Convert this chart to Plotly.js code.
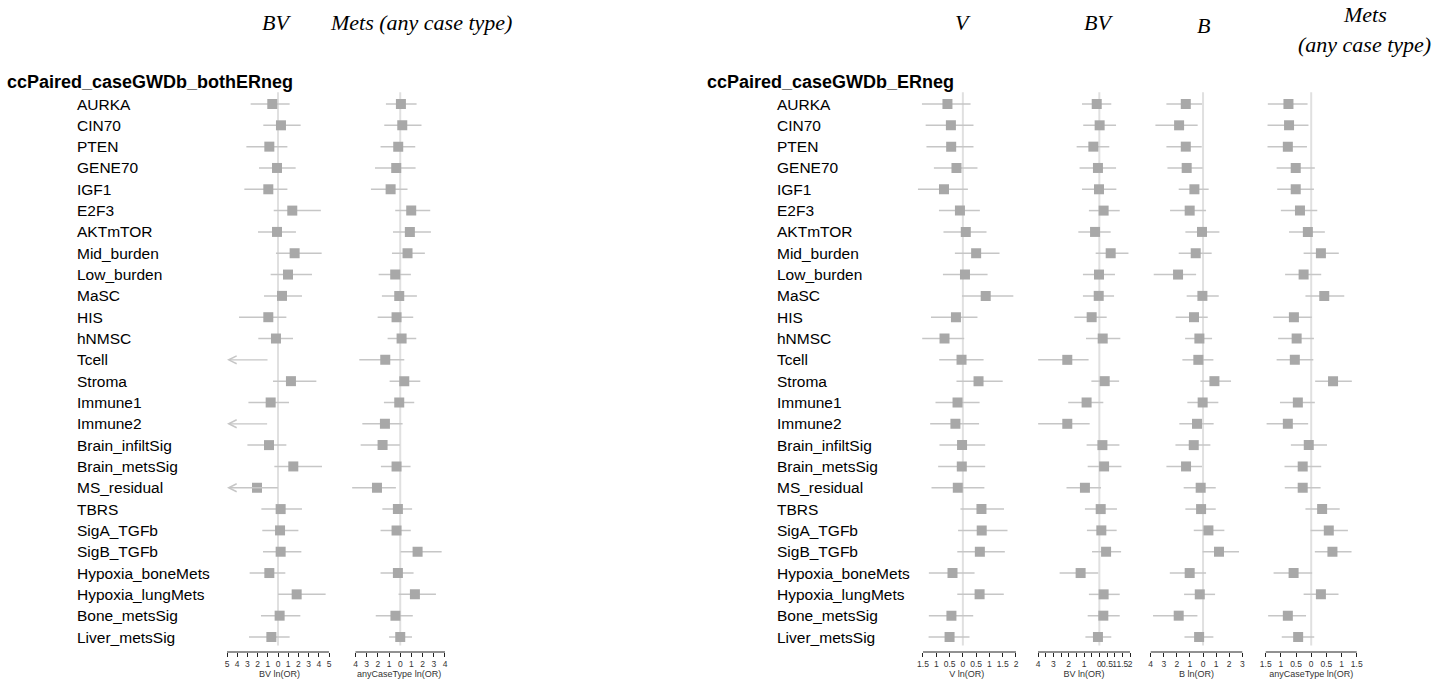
<!DOCTYPE html>
<html>
<head>
<meta charset="utf-8">
<script src="https://cdn.plot.ly/plotly-3.0.1.min.js"></script>
<style>html,body{margin:0;padding:0;background:#fff;}#chart{width:1433px;height:684px;}</style>
</head>
<body>
<div id="chart"></div>
<script>
// ---------------- DATA ----------------
const rowLabels = ["AURKA","CIN70","PTEN","GENE70","IGF1","E2F3","AKTmTOR","Mid_burden","Low_burden","MaSC","HIS","hNMSC","Tcell","Stroma","Immune1","Immune2","Brain_infiltSig","Brain_metsSig","MS_residual","TBRS","SigA_TGFb","SigB_TGFb","Hypoxia_boneMets","Hypoxia_lungMets","Bone_metsSig","Liver_metsSig"];

const leftTitle = "ccPaired_caseGWDb_bothERneg";
const rightTitle = "ccPaired_caseGWDb_ERneg";

// Left panel: BV
const lBV_est = [-0.56,0.29,-0.85,-0.10,-0.95,1.40,-0.10,1.63,0.98,0.39,-0.95,-0.20,-6.0,1.27,-0.72,-6.0,-0.88,1.50,-2.06,0.26,0.20,0.26,-0.85,1.83,0.16,-0.65];
const lBV_lo  = [-2.68,-1.44,-3.10,-1.86,-3.30,-0.42,-1.96,-0.20,-0.72,-1.37,-3.82,-1.93,-14.0,-0.49,-2.90,-14.0,-3.00,-0.36,-9.0,-1.63,-1.54,-1.47,-2.78,0.00,-1.67,-2.84];
const lBV_hi  = [1.14,2.22,0.92,1.73,0.92,4.20,1.76,4.28,3.33,2.35,0.82,1.47,-0.88,3.76,1.08,-0.92,0.82,4.31,0.13,2.35,2.00,2.29,0.72,4.67,2.19,1.14];

// Left panel: Mets (any case type)
const lMets_est = [0.06,0.18,-0.18,-0.36,-0.86,0.98,0.86,0.65,-0.45,-0.09,-0.33,0.12,-1.34,0.36,-0.09,-1.37,-1.58,-0.33,-2.08,-0.21,-0.33,1.55,-0.21,1.31,-0.43,0.00];
const lMets_lo  = [-1.28,-1.43,-1.76,-2.26,-2.62,-0.45,-0.65,-0.74,-1.93,-1.64,-2.02,-1.13,-3.66,-0.95,-1.46,-3.39,-3.54,-1.73,-4.30,-1.60,-1.76,0.03,-1.76,-0.15,-2.19,-1.00];
const lMets_hi  = [1.46,1.90,1.34,1.37,0.65,2.68,2.74,2.20,0.95,1.49,1.16,1.43,0.36,1.79,1.25,0.21,-0.03,0.92,-0.39,1.06,0.94,3.70,1.19,3.19,1.12,1.05];

// Right panel: V
const rV_est = [-0.58,-0.45,-0.44,-0.24,-0.71,-0.11,0.11,0.50,0.08,0.86,-0.26,-0.69,-0.05,0.59,-0.20,-0.28,-0.03,-0.04,-0.19,0.70,0.71,0.64,-0.39,0.63,-0.43,-0.50];
const rV_lo  = [-1.54,-1.40,-1.37,-1.09,-1.69,-0.90,-0.73,-0.30,-0.75,-0.03,-1.20,-1.53,-0.89,-0.24,-1.03,-1.23,-0.88,-0.93,-1.18,-0.09,-0.18,-0.21,-1.28,-0.21,-1.28,-1.29];
const rV_hi  = [0.29,0.40,0.40,0.55,0.19,0.64,0.89,1.38,0.93,1.90,0.55,0.05,0.78,1.50,0.63,0.61,0.84,0.84,0.81,1.55,1.68,1.58,0.44,1.54,0.39,0.25];

// Right panel: BV
const rBV_est = [-0.17,0.02,-0.39,-0.09,-0.02,0.28,-0.28,0.74,-0.02,-0.04,-0.50,0.22,-2.09,0.35,-0.83,-2.09,0.20,0.31,-0.94,0.09,0.13,0.44,-1.22,0.28,0.26,-0.09];
const rBV_lo  = [-1.13,-1.05,-1.48,-1.29,-1.13,-0.68,-1.37,-0.24,-1.07,-1.07,-1.63,-0.87,-3.99,-0.52,-2.03,-3.99,-0.83,-0.76,-2.14,-0.94,-0.81,-0.48,-2.59,-0.68,-0.76,-0.91];
const rBV_hi  = [0.78,1.09,0.65,1.09,1.11,1.33,0.74,1.90,1.02,0.96,0.48,1.37,-0.70,1.29,0.26,-0.63,1.31,1.44,0.11,1.15,1.13,1.42,-0.07,1.33,1.33,0.78];

// Right panel: B
const rB_est = [-1.32,-1.83,-1.32,-1.25,-0.66,-1.02,-0.08,-0.56,-1.91,-0.05,-0.69,-0.28,-0.36,0.87,-0.03,-0.46,-0.71,-1.30,-0.18,-0.15,0.41,1.22,-1.02,-0.25,-1.86,-0.30];
const rB_lo  = [-2.80,-3.64,-2.80,-2.72,-1.86,-2.52,-1.35,-1.86,-3.77,-1.25,-2.09,-1.37,-1.58,-0.20,-1.20,-1.81,-2.11,-2.80,-1.48,-1.35,-0.71,-0.03,-2.54,-1.45,-3.82,-1.42];
const rB_hi  = [-0.08,-0.41,-0.10,-0.03,0.43,0.23,1.25,0.66,-0.53,1.20,0.36,0.69,0.79,2.14,1.17,0.81,0.56,-0.08,0.97,0.97,1.63,2.75,0.23,0.92,-0.43,0.79];

// Right panel: Mets (any case type)
const rMets_est = [-0.75,-0.73,-0.77,-0.51,-0.51,-0.37,-0.11,0.32,-0.25,0.43,-0.57,-0.48,-0.54,0.72,-0.44,-0.77,-0.08,-0.28,-0.28,0.36,0.58,0.70,-0.58,0.32,-0.77,-0.43];
const rMets_lo  = [-1.43,-1.44,-1.44,-1.14,-1.12,-1.00,-0.73,-0.25,-0.86,-0.19,-1.25,-1.09,-1.14,0.13,-1.03,-1.47,-0.67,-0.88,-0.87,-0.19,-0.02,0.12,-1.24,-0.25,-1.42,-0.97];
const rMets_hi  = [-0.12,-0.09,-0.14,0.12,0.09,0.20,0.45,0.91,0.33,1.09,0.02,0.09,0.07,1.34,0.12,-0.10,0.52,0.33,0.31,0.94,1.21,1.33,0.03,0.90,-0.17,0.10];

// Tick values and labels
const lBV_ticks = [-5,-4,-3,-2,-1,0,1,2,3,4,5];
const lBV_tickText = ["5","4","3","2","1","0","1","2","3","4","5"];
const lMets_ticks = [-4,-3,-2,-1,0,1,2,3,4];
const lMets_tickText = ["4","3","2","1","0","1","2","3","4"];
const rV_ticks = [-1.5,-1,-0.5,0,0.5,1,1.5,2];
const rV_tickText = ["1.5","1","0.5","0","0.5","1","1.5","2"];
const rBV_ticks = [-4,-3.5,-3,-2.5,-2,-1.5,-1,-0.5,0,0.5,1,1.5,2];
const rBV_tickText = ["4","","3","","2","","1","","0","0.5","1","1.5","2"];
const rB_ticks = [-4,-3,-2,-1,0,1,2,3];
const rB_tickText = ["4","3","2","1","0","1","2","3"];
const rMets_ticks = [-1.5,-1,-0.5,0,0.5,1,1.5];
const rMets_tickText = ["1.5","1","0.5","0","0.5","1","1.5"];

const axisTitles = ["BV ln(OR)","anyCaseType ln(OR)","V ln(OR)","BV ln(OR)","B ln(OR)","anyCaseType ln(OR)"];

// ---------------- LAYOUT HELPERS ----------------
const W = 1433, H = 684;
const px2x = p => p / W;
const px2y = p => 1 - p / H;
const plotTop = 92, plotBottom = 652;
const firstRowPx = 104, lastRowPx = 637;
const rowStep = (lastRowPx - firstRowPx) / (rowLabels.length - 1);
const yTopVal = -(firstRowPx - plotTop) / rowStep;
const yBotVal = (rowLabels.length - 1) + (plotBottom - lastRowPx) / rowStep;
const yDomain = [px2y(plotBottom), px2y(plotTop)];

const columns = [
  {est:lBV_est, lo:lBV_lo, hi:lBV_hi, ticks:lBV_ticks, text:lBV_tickText, pxMin:227, pxMax:329, padL:0, padR:0.3},
  {est:lMets_est, lo:lMets_lo, hi:lMets_hi, ticks:lMets_ticks, text:lMets_tickText, pxMin:355.5, pxMax:445, padL:0.6, padR:0.4},
  {est:rV_est, lo:rV_lo, hi:rV_hi, ticks:rV_ticks, text:rV_tickText, pxMin:923, pxMax:1016, padL:0.3, padR:0.1},
  {est:rBV_est, lo:rBV_lo, hi:rBV_hi, ticks:rBV_ticks, text:rBV_tickText, pxMin:1038, pxMax:1130, padL:0.2, padR:0.2},
  {est:rB_est, lo:rB_lo, hi:rB_hi, ticks:rB_ticks, text:rB_tickText, pxMin:1150.7, pxMax:1242.3, padL:0.2, padR:0.2},
  {est:rMets_est, lo:rMets_lo, hi:rMets_hi, ticks:rMets_ticks, text:rMets_tickText, pxMin:1265.7, pxMax:1356.7, padL:0.2, padR:0.2}
];

const CI_COLOR = '#c6c6c6';
const BOX_COLOR = '#a8a8a8';
const ZERO_COLOR = '#e0e0e0';

const traces = [];
const shapes = [];
const annotations = [];
const layout = {
  width: W, height: H,
  margin: {l:0, r:0, t:0, b:0, pad:0},
  paper_bgcolor: '#fff', plot_bgcolor: 'rgba(0,0,0,0)',
  showlegend: false,
  font: {family: 'Liberation Sans, Arial, sans-serif', color: '#000'},
  yaxis: {domain: yDomain, range: [yBotVal, yTopVal], visible: false, fixedrange: true}
};

const rowIdx = rowLabels.map((_, i) => i);

columns.forEach((c, k) => {
  const n = k + 1;
  const xa = n === 1 ? 'x' : 'x' + n;
  const axKey = n === 1 ? 'xaxis' : 'xaxis' + n;
  const tmin = c.ticks[0], tmax = c.ticks[c.ticks.length - 1];
  const scale = (c.pxMax - c.pxMin) / (tmax - tmin);
  const rMin = tmin - c.padL, rMax = tmax + c.padR;
  const d0 = px2x(c.pxMin - c.padL * scale), d1 = px2x(c.pxMax + c.padR * scale);
  layout[axKey] = {
    domain: [d0, d1], range: [rMin, rMax], anchor: 'y',
    tickmode: 'array', tickvals: c.ticks, ticktext: c.text, tickangle: 0,
    ticks: 'outside', ticklen: 4, tickwidth: 1, tickcolor: '#222',
    showline: false, showgrid: false, zeroline: false, fixedrange: true,
    tickfont: {size: 8.5, color: '#333', family: 'Liberation Sans, Arial, sans-serif'},
    title: {text: axisTitles[k], font: {size: 9, color: '#333'}, standoff: 1}
  };
  // axis line spanning the ticks
  shapes.push({type:'line', xref: xa, yref:'paper', x0: tmin, x1: tmax, y0: yDomain[0], y1: yDomain[0], line:{color:'#222', width:1}});
  // zero line
  shapes.push({type:'line', xref: xa, yref:'y', x0: 0, x1: 0, y0: yTopVal + 0.01, y1: (rowLabels.length - 1) + 0.4, line:{color: ZERO_COLOR, width: 2}, layer:'below'});
  // CI lines
  const cx = [], cy = [];
  rowIdx.forEach(i => {
    if (c.lo[i] < rMin) {
      annotations.push({xref: xa, yref: 'y', axref: xa, ayref: 'y', x: rMin, y: i, ax: Math.min(c.hi[i], rMax), ay: i,
        text: '', showarrow: true, arrowhead: 5, arrowsize: 1.2, arrowwidth: 1.3, arrowcolor: CI_COLOR, standoff: 0, startstandoff: 0});
    } else {
      cx.push(c.lo[i], Math.min(c.hi[i], rMax), null);
      cy.push(i, i, null);
    }
  });
  traces.push({type:'scatter', mode:'lines', x: cx, y: cy, xaxis: xa, yaxis: 'y', line:{color: CI_COLOR, width: 1.5}, hoverinfo:'skip'});
  traces.push({type:'scatter', mode:'markers', x: c.est, y: rowIdx, xaxis: xa, yaxis: 'y', cliponaxis: true,
    marker:{symbol:'square', size: 10, color: BOX_COLOR, line:{width:0}}, hoverinfo:'x+y'});
});

// Row labels
const labelFont = {size: 15.5, color: '#000', family: 'Liberation Sans, Arial, sans-serif'};
[75, 775].forEach(lx => {
  rowIdx.forEach(i => {
    annotations.push({xref:'paper', yref:'y', x: px2x(lx), y: i, xanchor:'left', yanchor:'middle', text: rowLabels[i], showarrow:false, font: labelFont});
  });
});

// Panel titles
const titleFont = {size: 18, color: '#000', family: 'Liberation Sans, Arial, sans-serif'};
annotations.push({xref:'paper', yref:'paper', x: px2x(5), y: px2y(82), xanchor:'left', yanchor:'middle', text:'<b>' + leftTitle + '</b>', showarrow:false, font:titleFont});
annotations.push({xref:'paper', yref:'paper', x: px2x(705), y: px2y(82), xanchor:'left', yanchor:'middle', text:'<b>' + rightTitle + '</b>', showarrow:false, font:titleFont});

// Column headers
const headFont = {size: 22, color: '#000', family: 'Liberation Serif, Times New Roman, serif', style: 'italic'};
const headers = [
  {t:'BV', x:276, y:22}, {t:'Mets (any case type)', x:421, y:22},
  {t:'V', x:963, y:22}, {t:'BV', x:1098, y:22}, {t:'B', x:1203, y:25},
  {t:'Mets', x:1365, y:15}, {t:'(any case type)', x:1364, y:45}
];
headers.forEach(h => annotations.push({xref:'paper', yref:'paper', x: px2x(h.x), y: px2y(h.y), xanchor:'center', yanchor:'middle', text: h.t, showarrow:false, font: headFont}));

layout.shapes = shapes;
layout.annotations = annotations;

Plotly.newPlot('chart', traces, layout, {staticPlot: true, displayModeBar: false});
</script>
</body>
</html>
